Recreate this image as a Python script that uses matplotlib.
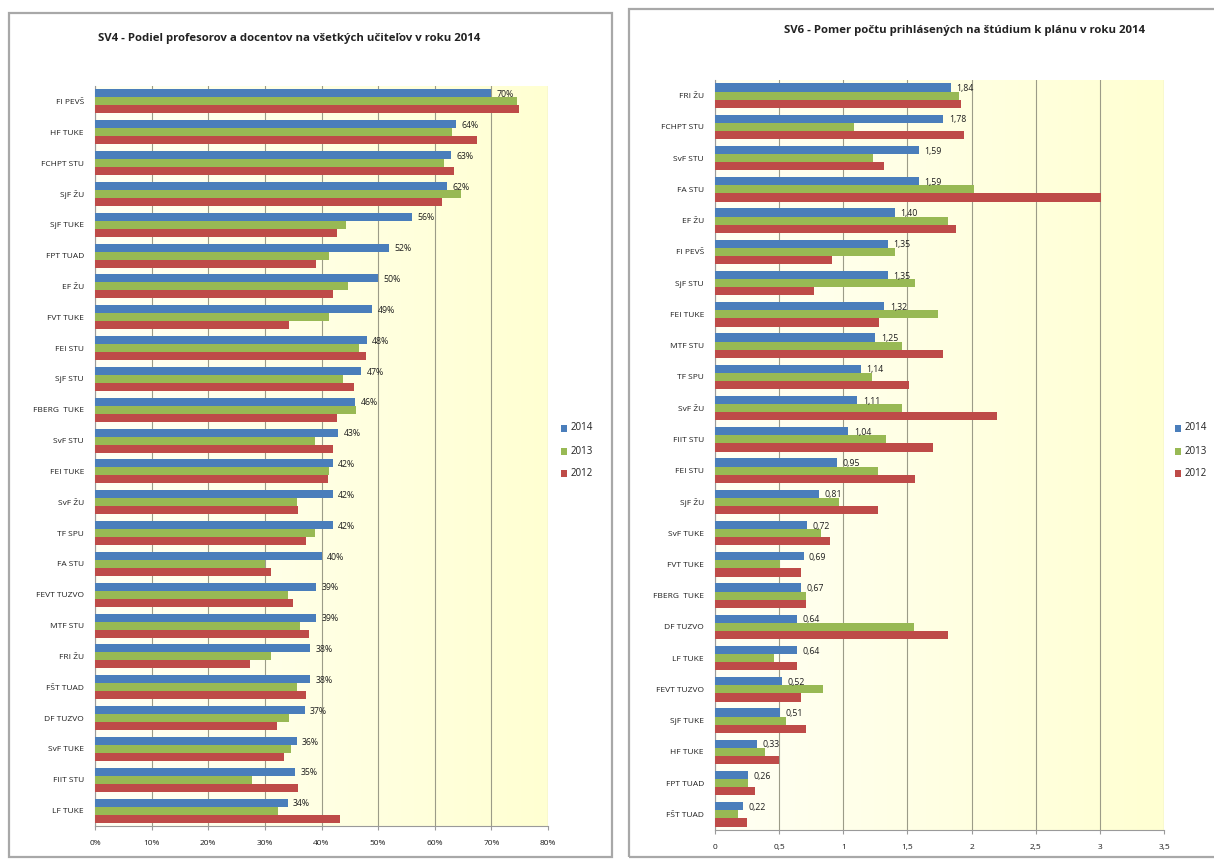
import matplotlib
matplotlib.use("Agg")
import matplotlib.pyplot as plt
import numpy as np
from matplotlib.patches import Rectangle
from matplotlib.colors import LinearSegmentedColormap

# ---------------- data: left chart (SV4) ----------------
left_title = "SV4 - Podiel profesorov a docentov na všetkých učiteľov v roku 2014"
left_categories = ["FI PEVŠ", "HF TUKE", "FCHPT STU", "SjF ŽU", "SjF TUKE", "FPT TUAD",
                   "EF ŽU", "FVT TUKE", "FEI STU", "SjF STU", "FBERG  TUKE", "SvF STU",
                   "FEI TUKE", "SvF ŽU", "TF SPU", "FA STU", "FEVT TUZVO", "MTF STU",
                   "FRI ŽU", "FŠT TUAD", "DF TUZVO", "SvF TUKE", "FIIT STU", "LF TUKE"]
left_2014 = [0.70, 0.637, 0.628, 0.622, 0.56, 0.52, 0.50, 0.49, 0.48, 0.47, 0.46, 0.43,
             0.42, 0.42, 0.42, 0.40, 0.39, 0.39, 0.38, 0.38, 0.37, 0.356, 0.353, 0.34]
left_2013 = [0.745, 0.63, 0.617, 0.646, 0.444, 0.414, 0.447, 0.414, 0.466, 0.438, 0.461, 0.389,
             0.414, 0.356, 0.389, 0.301, 0.34, 0.362, 0.31, 0.356, 0.343, 0.346, 0.278, 0.324]
left_2012 = [0.748, 0.674, 0.634, 0.613, 0.428, 0.39, 0.42, 0.342, 0.479, 0.457, 0.428, 0.42,
             0.411, 0.358, 0.373, 0.31, 0.35, 0.378, 0.273, 0.373, 0.321, 0.333, 0.358, 0.433]
left_ticks = [0, 0.1, 0.2, 0.3, 0.4, 0.5, 0.6, 0.7, 0.8]

# ---------------- data: right chart (SV6) ----------------
right_title = "SV6 - Pomer počtu prihlásených na štúdium k plánu v roku 2014"
right_categories = ["FRI ŽU", "FCHPT STU", "SvF STU", "FA STU", "EF ŽU", "FI PEVŠ", "SjF STU",
                    "FEI TUKE", "MTF STU", "TF SPU", "SvF ŽU", "FIIT STU", "FEI STU", "SjF ŽU",
                    "SvF TUKE", "FVT TUKE", "FBERG  TUKE", "DF TUZVO", "LF TUKE", "FEVT TUZVO",
                    "SjF TUKE", "HF TUKE", "FPT TUAD", "FŠT TUAD"]
right_2014 = [1.84, 1.78, 1.59, 1.59, 1.40, 1.35, 1.35, 1.32, 1.25, 1.14, 1.11, 1.04, 0.95,
              0.81, 0.72, 0.69, 0.67, 0.64, 0.64, 0.52, 0.51, 0.33, 0.26, 0.22]
right_2013 = [1.90, 1.08, 1.23, 2.02, 1.82, 1.40, 1.56, 1.74, 1.46, 1.22, 1.46, 1.33, 1.27,
              0.97, 0.83, 0.51, 0.71, 1.55, 0.46, 0.84, 0.55, 0.39, 0.26, 0.18]
right_2012 = [1.92, 1.94, 1.32, 3.01, 1.88, 0.91, 0.77, 1.28, 1.78, 1.51, 2.20, 1.70, 1.56,
              1.27, 0.90, 0.67, 0.71, 1.82, 0.64, 0.67, 0.71, 0.50, 0.31, 0.25]
right_ticks = [0, 0.5, 1, 1.5, 2, 2.5, 3, 3.5]

series_names = ["2014", "2013", "2012"]
colors = ["#4A7EBB", "#98B954", "#BE4B48"]

W, H = 1214, 859
fig = plt.figure(figsize=(W / 100, H / 100), dpi=100)
fig.patch.set_facecolor("white")


def px_rect(x0, y0, x1, y1):
    return [x0 / W, 1 - y1 / H, (x1 - x0) / W, (y1 - y0) / H]


# panel borders
for (x0, y0, x1, y1) in [(9, 13, 612, 857), (629, 9, 1222, 857)]:
    fig.patches.append(Rectangle((x0 / W, 1 - y1 / H), (x1 - x0) / W, (y1 - y0) / H,
                                 transform=fig.transFigure, fill=False,
                                 edgecolor="#A8A8A8", linewidth=1.6))

FONT = "Open Sans"
bg_cmap = LinearSegmentedColormap.from_list("bg", ["#FFFFF4", "#FFFFD2"])


def draw(ax, cats, s14, s13, s12, ticks, xmax, fmt_tick, fmt_lab, title, title_xy, legend_x):
    n = len(cats)
    y = np.arange(n)
    h = 0.26
    vals = [s14, s13, s12]
    ax.imshow(np.linspace(0, 1, 256)[None, :], cmap=bg_cmap, aspect="auto",
              extent=[0, xmax, n - 0.5, -0.5], zorder=0, interpolation="bilinear")
    for i, (v, c) in enumerate(zip(vals, colors)):
        ax.barh(y + (i - 1) * h, v, height=h, color=c, edgecolor="none",
                label=series_names[i], zorder=3)
    for yi, v in zip(y, s14):
        ax.text(v + xmax * 0.012, yi - h * 0.85, fmt_lab(v), fontsize=6.3, family=FONT,
                va="center", ha="left", color="#1E1E1E", zorder=4)
    ax.set_xlim(0, xmax)
    ax.set_ylim(n - 0.5, -0.5)
    ax.set_yticks(y)
    ax.set_yticklabels(cats, fontsize=6, family=FONT, color="#1E1E1E")
    ax.set_xticks(ticks)
    ax.set_xticklabels([fmt_tick(t) for t in ticks], fontsize=6, family=FONT, color="#1E1E1E")
    ax.xaxis.grid(True, color="#9C9C88", linewidth=0.8, zorder=1)
    ax.set_axisbelow(True)
    for s in ["top", "right"]:
        ax.spines[s].set_visible(False)
    ax.spines["left"].set_color("#9A9A9A")
    ax.spines["bottom"].set_color("#9A9A9A")
    ax.tick_params(axis="y", length=0, pad=8)
    ax.tick_params(axis="x", length=3, color="#9A9A9A", pad=7)
    fig.text(title_xy[0] / W, 1 - title_xy[1] / H, title, fontsize=8.2, family=FONT,
             fontweight="bold", ha="center", va="center", color="#222222")
    # legend
    for k, name in enumerate(series_names):
        yy = 428 + k * 23
        fig.patches.append(Rectangle(((legend_x) / W, 1 - (yy + 3.5) / H), 6 / W, 7 / H,
                                     transform=fig.transFigure, facecolor=colors[k],
                                     edgecolor="none"))
        fig.text((legend_x + 10) / W, 1 - yy / H, name, fontsize=7, family=FONT,
                 va="center", ha="left", color="#222222")


axL = fig.add_axes(px_rect(95, 86, 548, 826))
draw(axL, left_categories, left_2014, left_2013, left_2012, left_ticks, 0.8,
     lambda t: f"{t*100:.0f}%", lambda v: f"{v*100:.0f}%", left_title, (289, 39), 561)

axR = fig.add_axes(px_rect(715, 80, 1164, 830))
draw(axR, right_categories, right_2014, right_2013, right_2012, right_ticks, 3.5,
     lambda t: (f"{t:g}").replace(".", ","), lambda v: f"{v:.2f}".replace(".", ","),
     right_title, (965, 30), 1175)

fig.savefig("out.png", dpi=100)
